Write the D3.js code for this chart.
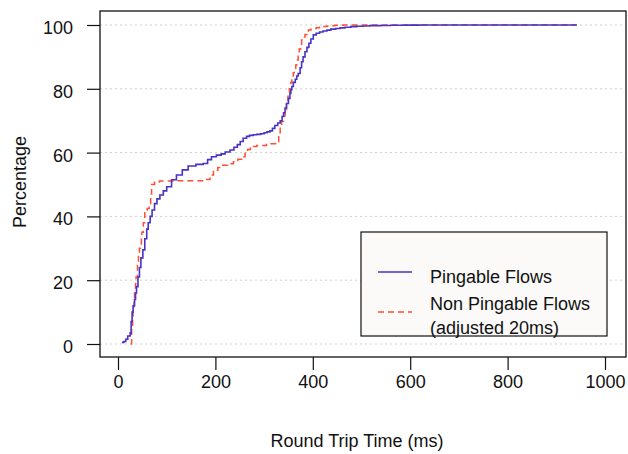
<!DOCTYPE html>
<html>
<head>
<meta charset="utf-8">
<script src="https://cdn.jsdelivr.net/npm/d3@7"></script>
<style>
  body { margin: 0; background: #fff; }
  svg { display: block; font-family: "Liberation Sans", Arial, sans-serif; }
</style>
</head>
<body>
<svg id="chart" width="628" height="454"></svg>
<script>
// ---- data ----
const xTicks = [0, 200, 400, 600, 800, 1000];
const yTicks = [0, 20, 40, 60, 80, 100];

const pingableRTT = [8, 12, 16, 20, 25, 27, 29, 31, 34, 36, 38, 41, 44, 47, 51, 55, 59, 62, 66, 70, 75, 80, 86, 93, 100, 110, 120, 132, 144, 160, 175, 184, 192, 202, 212, 220, 230, 238, 245, 251, 257, 264, 270, 278, 285, 293, 300, 306, 312, 317, 322, 328, 333, 337, 340, 343, 346, 350, 353, 355, 357, 360, 364, 367, 370, 374, 377, 380, 384, 388, 392, 396, 401, 407, 414, 421, 429, 437, 447, 456, 466, 478, 490, 503, 517, 540, 560, 590, 620, 700, 800, 942];
const pingablePct = [0.5, 0.8, 1.5, 2.5, 3.5, 7, 10, 12, 14, 16, 18, 21, 24, 27, 29.5, 33, 36, 38, 40, 42, 44, 45.5, 46.7, 48, 49.3, 51.5, 53, 54.6, 55.8, 56.3, 56.6, 57.8, 58.7, 59.2, 59.6, 60.2, 60.8, 61.7, 62.5, 63.5, 64.5, 65.1, 65.4, 65.6, 65.7, 65.9, 66.2, 66.5, 66.8, 67.6, 68.5, 69.3, 70, 71.3, 72.5, 74, 75.4, 77, 78.6, 79.7, 80.7, 82, 83, 84, 84.8, 86.6, 88.5, 90, 91.6, 93, 94.3, 95.6, 96.9, 97.4, 97.8, 98.1, 98.4, 98.7, 98.9, 99.1, 99.3, 99.5, 99.6, 99.7, 99.8, 99.85, 99.9, 99.95, 100, 100, 100, 100];

const nonPingableRTT = [26, 28, 30, 31, 33, 34, 36, 37, 40, 42, 44, 46, 48, 49, 52, 55, 58, 60, 64, 67, 69, 75, 85, 120, 182, 189, 196, 205, 215, 225, 237, 246, 254, 261, 266, 272, 278, 285, 305, 326, 330, 333, 336, 340, 343, 346, 349, 352, 355, 357, 360, 362, 365, 367, 370, 372, 375, 377, 381, 384, 388, 391, 396, 401, 407, 414, 421, 429, 437, 445, 453, 462, 520, 600, 700, 800, 942];
const nonPingablePct = [0, 5, 8, 10.7, 13.5, 16, 19, 21, 25, 28.4, 30, 31, 33, 35, 38, 41.5, 42, 42.5, 44, 47, 50, 50.8, 51.1, 51.2, 51.6, 53, 54.5, 55.3, 56, 56.5, 57.1, 57.9, 58.7, 60.3, 61, 61.5, 61.9, 62.2, 62.8, 63.4, 65.5, 68, 69.8, 71.5, 73.5, 75.4, 77.7, 80, 82, 83.8, 85, 86, 87.5, 89, 90.8, 92.5, 94, 95.3, 96.2, 97, 97.8, 98.4, 98.7, 98.9, 99.1, 99.3, 99.5, 99.7, 99.8, 99.9, 99.95, 100, 100, 100, 100, 100, 100];

const seriesNames = ["Pingable Flows", "Non Pingable Flows", "(adjusted 20ms)"];
const axisTitles = ["Round Trip Time (ms)", "Percentage"];

// ---- layout ----
const FS = 18;
const FONT = "Liberation Sans, Arial, sans-serif";
const svg = d3.select("#chart");
const box = { left: 100, right: 626, top: 11, bottom: 357 };
const x = d3.scaleLinear().domain([0, 1000]).range([118, 605]);
const y = d3.scaleLinear().domain([0, 100]).range([344, 25]);

// grid
svg.append("g").selectAll("line").data(yTicks).join("line")
  .attr("x1", box.left).attr("x2", box.right)
  .attr("y1", d => y(d)).attr("y2", d => y(d))
  .attr("stroke", "#cfcfcf").attr("stroke-width", 1)
  .attr("stroke-dasharray", "2,3");

// curves
const line = d3.line().curve(d3.curveStepAfter).x(d => x(d[0])).y(d => y(d[1]));
const pingData = pingableRTT.map((v, i) => [v, pingablePct[i]]);
const nonData = nonPingableRTT.map((v, i) => [v, nonPingablePct[i]]);

svg.append("path").datum(nonData).attr("d", line)
  .attr("fill", "none").attr("stroke", "#ff4f33").attr("stroke-width", 1.5)
  .attr("stroke-dasharray", "6,4");
svg.append("path").datum(pingData).attr("d", line)
  .attr("fill", "none").attr("stroke", "#4733c4").attr("stroke-width", 1.6);

// box
svg.append("rect")
  .attr("x", box.left).attr("y", box.top)
  .attr("width", box.right - box.left).attr("height", box.bottom - box.top)
  .attr("fill", "none").attr("stroke", "#111").attr("stroke-width", 1.3);

// x axis
const xAxis = svg.append("g").attr("transform", `translate(0,${box.bottom})`)
  .call(d3.axisBottom(x).tickValues(xTicks).tickSize(13).tickPadding(0).tickFormat(d3.format("d")));
xAxis.select(".domain").remove();
xAxis.selectAll("line").attr("stroke", "#111").attr("stroke-width", 1.2);
xAxis.selectAll("text").attr("font-size", FS).attr("fill", "#111").attr("font-family", FONT)
  .attr("y", 31).attr("dy", 0);

// y axis
const yAxis = svg.append("g").attr("transform", `translate(${box.left},0)`)
  .call(d3.axisLeft(y).tickValues(yTicks).tickSize(13).tickPadding(0).tickFormat(d3.format("d")));
yAxis.select(".domain").remove();
yAxis.selectAll("line").attr("stroke", "#111").attr("stroke-width", 1.2);
yAxis.selectAll("text").attr("font-size", FS).attr("fill", "#111").attr("font-family", FONT)
  .attr("x", -27).attr("dy", 0).attr("y", 8.5);

// titles
svg.append("text").attr("x", 357).attr("y", 447).attr("text-anchor", "middle")
  .attr("font-size", FS).attr("fill", "#111").text(axisTitles[0]);
svg.append("text").attr("transform", "translate(26,182) rotate(-90)").attr("text-anchor", "middle")
  .attr("font-size", FS).attr("fill", "#111").text(axisTitles[1]);

// legend
const lg = svg.append("g");
lg.append("rect").attr("x", 361).attr("y", 232).attr("width", 246).attr("height", 104)
  .attr("fill", "#fbfaf9").attr("stroke", "#111").attr("stroke-width", 1.2);
lg.append("line").attr("x1", 378).attr("x2", 412).attr("y1", 272).attr("y2", 272)
  .attr("stroke", "#4733c4").attr("stroke-width", 1.4);
lg.append("line").attr("x1", 378).attr("x2", 412).attr("y1", 312).attr("y2", 312)
  .attr("stroke", "#ff4f33").attr("stroke-width", 1.4).attr("stroke-dasharray", "6,4");
lg.append("text").attr("x", 430).attr("y", 283).attr("font-size", FS).attr("fill", "#111").text(seriesNames[0]);
lg.append("text").attr("x", 430).attr("y", 310).attr("font-size", FS).attr("fill", "#111").text(seriesNames[1]);
lg.append("text").attr("x", 430).attr("y", 334).attr("font-size", FS).attr("fill", "#111").text(seriesNames[2]);
</script>
</body>
</html>
